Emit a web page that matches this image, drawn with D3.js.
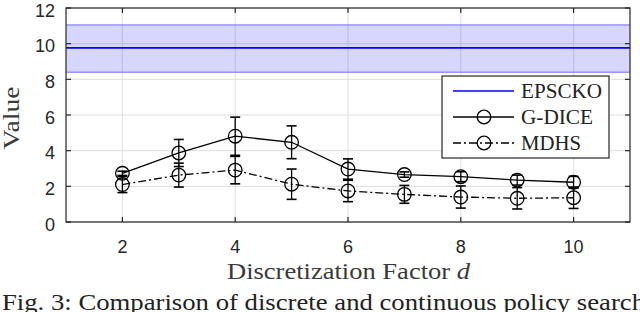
<!DOCTYPE html>
<html><head><meta charset="utf-8">
<script src="https://cdn.jsdelivr.net/npm/d3@7"></script>
<style>
html,body{margin:0;padding:0;background:#fff;}
svg{display:block;}
</style></head>
<body>
<svg id="c" width="640" height="312"></svg>
<script>
const xs = [2, 3, 4, 5, 6, 7, 8, 9, 10];
const gdice = [2.73, 3.87, 4.81, 4.47, 2.97, 2.66, 2.54, 2.35, 2.23];
const gdiceErr = [0.12, 0.76, 1.07, 0.92, 0.57, 0.15, 0.28, 0.28, 0.33];
const mdhs = [2.10, 2.63, 2.91, 2.12, 1.74, 1.55, 1.40, 1.33, 1.36];
const mdhsErr = [0.45, 0.67, 0.77, 0.85, 0.60, 0.50, 0.62, 0.60, 0.60];
const epsckoMean = 9.76;
const epsckoLow = 8.40;
const epsckoHigh = 11.05;
const xTicks = [2, 4, 6, 8, 10];
const yTicks = [0, 2, 4, 6, 8, 10, 12];
const seriesNames = ["EPSCKO", "G-DICE", "MDHS"];
const xTitle = "Discretization Factor ";
const xTitleVar = "d";
const yTitle = "Value";
const caption = "Fig. 3: Comparison of discrete and continuous policy search";

const svg = d3.select("#c");
const L = 66, R = 630, T = 8, B = 222;
const x = d3.scaleLinear().domain([1, 11]).range([L, R]);
const y = d3.scaleLinear().domain([0, 12]).range([B, T]);
const axisCol = "#262626";

// grid
const g = svg.append("g");
g.selectAll(".gx").data(xTicks).join("line")
  .attr("x1", d => x(d)).attr("x2", d => x(d)).attr("y1", T).attr("y2", B)
  .attr("stroke", "#dedede").attr("stroke-width", 1);
g.selectAll(".gy").data(yTicks).join("line")
  .attr("y1", d => y(d)).attr("y2", d => y(d)).attr("x1", L).attr("x2", R)
  .attr("stroke", "#dedede").attr("stroke-width", 1);

// EPSCKO band
svg.append("rect").attr("x", L).attr("width", R - L)
  .attr("y", y(epsckoHigh)).attr("height", y(epsckoLow) - y(epsckoHigh))
  .attr("fill", "#0000ff").attr("fill-opacity", 0.16);
[epsckoLow, epsckoHigh].forEach(v => {
  svg.append("line").attr("x1", L).attr("x2", R).attr("y1", y(v)).attr("y2", y(v))
    .attr("stroke", "#6a6aff").attr("stroke-width", 1);
});
svg.append("line").attr("x1", L).attr("x2", R).attr("y1", y(epsckoMean)).attr("y2", y(epsckoMean))
  .attr("stroke", "#0000ff").attr("stroke-width", 1.8);

// series
const line = d3.line().x((d, i) => x(xs[i])).y(d => y(d));
function drawSeries(vals, errs, dash) {
  const gg = svg.append("g").attr("stroke", "#000").attr("fill", "none").attr("stroke-width", 1.3);
  gg.append("path").attr("d", line(vals)).attr("stroke-dasharray", dash);
  vals.forEach((v, i) => {
    const cx = x(xs[i]);
    gg.append("line").attr("x1", cx).attr("x2", cx).attr("y1", y(v - errs[i])).attr("y2", y(v + errs[i]));
    [v - errs[i], v + errs[i]].forEach(e => {
      gg.append("line").attr("x1", cx - 5).attr("x2", cx + 5).attr("y1", y(e)).attr("y2", y(e)).attr("stroke-width", 1.6);
    });
    gg.append("circle").attr("cx", cx).attr("cy", y(v)).attr("r", 6.8);
  });
}
drawSeries(gdice, gdiceErr, null);
drawSeries(mdhs, mdhsErr, "8,3,2,3");

// axes box
svg.append("rect").attr("x", L).attr("y", T).attr("width", R - L).attr("height", B - T)
  .attr("fill", "none").attr("stroke", axisCol).attr("stroke-width", 1.2);
const tk = 5;
xTicks.forEach(d => {
  svg.append("line").attr("x1", x(d)).attr("x2", x(d)).attr("y1", B).attr("y2", B - tk).attr("stroke", axisCol).attr("stroke-width", 1.2);
  svg.append("line").attr("x1", x(d)).attr("x2", x(d)).attr("y1", T).attr("y2", T + tk).attr("stroke", axisCol).attr("stroke-width", 1.2);
  svg.append("text").attr("x", x(d)).attr("y", 252.5).attr("text-anchor", "middle")
    .style("font-family", "'Liberation Sans', Arial, sans-serif").attr("font-size", 18).attr("fill", axisCol).text(d);
});
yTicks.forEach(d => {
  svg.append("line").attr("x1", L).attr("x2", L + tk).attr("y1", y(d)).attr("y2", y(d)).attr("stroke", axisCol).attr("stroke-width", 1.2);
  svg.append("line").attr("x1", R).attr("x2", R - tk).attr("y1", y(d)).attr("y2", y(d)).attr("stroke", axisCol).attr("stroke-width", 1.2);
  svg.append("text").attr("x", 55).attr("y", y(d) + 8.5).attr("text-anchor", "end")
    .style("font-family", "'Liberation Sans', Arial, sans-serif").attr("font-size", 18).attr("fill", axisCol).text(d);
});

// axis titles
const serif = "'Liberation Serif', 'Times New Roman', serif";
const xt = svg.append("text").attr("x", 227).attr("y", 279).style("font-family", serif).attr("font-size", 23)
  .attr("fill", "#3a3a3a").attr("textLength", 243).attr("lengthAdjust", "spacingAndGlyphs");
xt.append("tspan").text(xTitle);
xt.append("tspan").attr("font-style", "italic").text(xTitleVar);
svg.append("text").attr("transform", "translate(19,118) rotate(-90)").attr("text-anchor", "middle")
  .style("font-family", serif).attr("font-size", 23).attr("fill", "#3a3a3a")
  .attr("textLength", 63).attr("lengthAdjust", "spacingAndGlyphs").text(yTitle);

// legend
const lg = svg.append("g");
lg.append("rect").attr("x", 442).attr("y", 76).attr("width", 167).attr("height", 82)
  .attr("fill", "#fff").attr("stroke", axisCol).attr("stroke-width", 1.2);
const ly = [91, 117, 143];
const dashes = [null, null, "8,3,2,3"];
const cols = ["#0000ff", "#000", "#000"];
const widths = [81, 72, 60];
seriesNames.forEach((n, i) => {
  lg.append("line").attr("x1", 453).attr("x2", 514).attr("y1", ly[i]).attr("y2", ly[i])
    .attr("stroke", cols[i]).attr("stroke-width", 1.3).attr("stroke-dasharray", dashes[i]);
  if (i > 0) lg.append("circle").attr("cx", 484).attr("cy", ly[i]).attr("r", 6.8)
    .attr("fill", "none").attr("stroke", "#000").attr("stroke-width", 1.3);
  lg.append("text").attr("x", 521).attr("y", ly[i] + 7).style("font-family", serif).attr("font-size", 20)
    .attr("fill", "#222").attr("textLength", widths[i]).attr("lengthAdjust", "spacingAndGlyphs").text(n);
});

// caption
svg.append("text").attr("x", 2).attr("y", 310).style("font-family", serif).attr("font-size", 24)
  .attr("fill", "#222").attr("textLength", 643).attr("lengthAdjust", "spacingAndGlyphs").text(caption);
</script>
</body></html>
